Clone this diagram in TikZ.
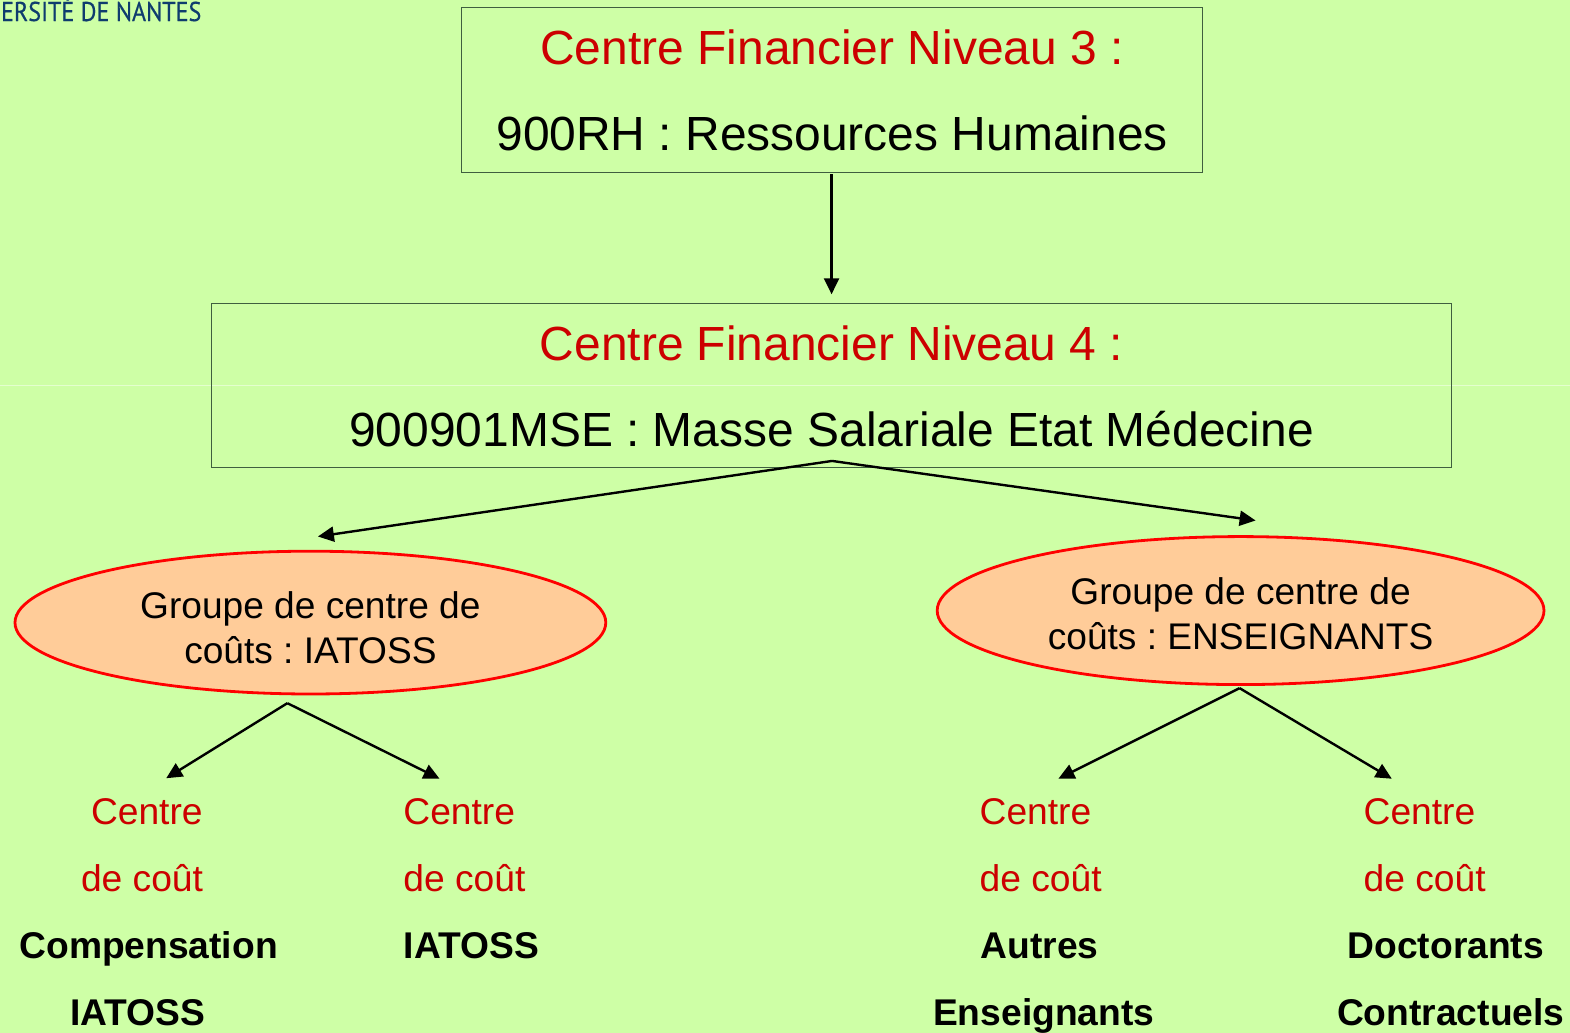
\documentclass[tikz,border=0pt]{standalone}
\usepackage{fontspec}
\setmainfont{Liberation Sans}
\newfontfamily\logofont[FakeStretch=0.885,FakeBold=0.4]{PT Sans}
\usetikzlibrary{arrows.meta,shapes.geometric}
\definecolor{bgc}{HTML}{CEFFA6}
\definecolor{redt}{HTML}{CC0000}
\definecolor{boxl}{HTML}{3F5F3F}
\definecolor{ellf}{HTML}{FFCC99}
\definecolor{logoc}{HTML}{0F3C6E}
\tikzset{
  x=0.50064pt,y=-0.50048pt,
  boxn/.style={draw=boxl,line width=0.5pt,inner sep=0pt,align=center,font=\fontsize{23.97}{43}\selectfont},
  elln/.style={ellipse,draw=red,fill=ellf,line width=1.4pt,inner sep=0pt,align=center,font=\fontsize{18.55}{22.5}\selectfont},
  lab/.style={anchor=base west,inner sep=0pt,font=\fontsize{18.6}{22}\selectfont},
  redl/.style={lab,text=redt},
  boldl/.style={lab,font=\fontsize{18.6}{22}\selectfont\bfseries},
  arr/.style={-{Triangle[length=8pt,width=7.5pt]},line width=1.2pt,black},
}
\begin{document}
\frenchspacing
\begin{tikzpicture}
\useasboundingbox (0,0) rectangle (1568,1032);
\fill[bgc] (0,0) rectangle (1568,1032);
\draw[white!45!bgc,line width=0.4pt] (0,385.5) -- (1568,385.5);
\node[anchor=base east,inner sep=0pt,text=logoc,font=\logofont\fontsize{13.6}{16}\selectfont] (logo) at (201.5,21) {ERSITÉ DE NANTES};
\node[boxn,minimum width=370.5pt,minimum height=82.3pt] (box3) at (831,90) {\textcolor{redt}{Centre Financier Niveau 3 :}\\900RH : Ressources Humaines};
\node[boxn,minimum width=620.3pt,minimum height=82.2pt] (box4) at (830.5,385) {\rule{0pt}{18.5pt}\textcolor{redt}{Centre Financier Niveau 4 :}\\900901MSE : Masse Salariale Etat Médecine};
\node[elln,minimum width=295.4pt,minimum height=71.4pt] (ell1) at (310,622) {\rule{0pt}{18.5pt}Groupe de centre de\\coûts : IATOSS};
\node[elln,minimum width=303.4pt,minimum height=74pt] (ell2) at (1239,610) {\rule{0pt}{16.5pt}Groupe de centre de\\coûts : ENSEIGNANTS};
\node[redl] (a1) at (90.5,824) {Centre};
\node[redl] (a2) at (80.5,891) {de coût};
\node[boldl] (a3) at (19,958) {Compensation};
\node[boldl] (a4) at (70,1025) {IATOSS};
\node[redl] (b1) at (402.5,824) {Centre};
\node[redl] (b2) at (402.5,891) {de coût};
\node[boldl] (b3) at (403,958) {IATOSS};
\node[redl] (c1) at (978,824) {Centre};
\node[redl] (c2) at (978,891) {de coût};
\node[boldl] (c3) at (979,958) {Autres};
\node[boldl] (c4) at (931.5,1025) {Enseignants};
\node[redl] (d1) at (1361.5,824) {Centre};
\node[redl] (d2) at (1361.5,891) {de coût};
\node[boldl] (d3) at (1345.5,958) {Doctorants};
\node[boldl] (d4) at (1335,1025) {Contractuels};
\coordinate (s3) at (830.5,174);
\coordinate (e3) at (830.5,294);
\coordinate (s4) at (831,460.5);
\coordinate (e4l) at (317.5,536);
\coordinate (e4r) at (1254,520);
\coordinate (s1) at (287,702.5);
\coordinate (e1l) at (166,777.5);
\coordinate (e1r) at (439,778);
\coordinate (s2) at (1238,687.5);
\coordinate (e2l) at (1057,778);
\coordinate (e2r) at (1390,778);
\draw[arr] (s3) -- (e3);
\draw[arr] (s4) -- (e4l);
\draw[arr] (s4) -- (e4r);
\draw[arr] (s1) -- (e1l);
\draw[arr] (s1) -- (e1r);
\draw[arr] (s2) -- (e2l);
\draw[arr] (s2) -- (e2r);
\end{tikzpicture}
\end{document}
